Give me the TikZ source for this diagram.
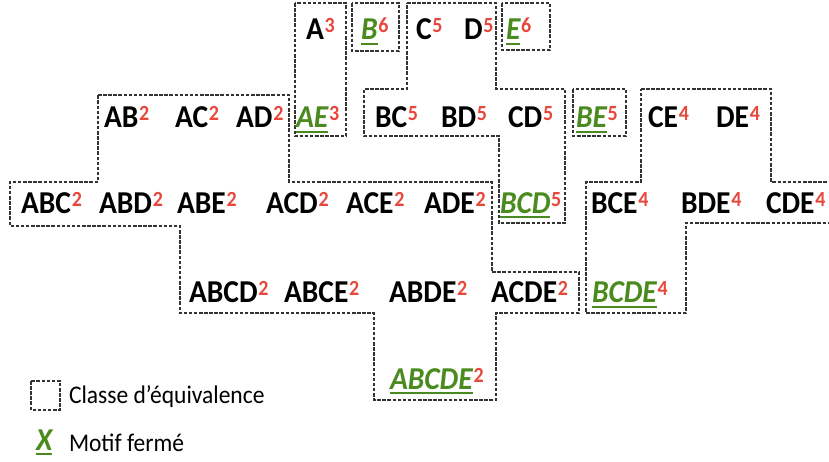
\documentclass[tikz,border=0pt]{standalone}
\usepackage{fontspec}
\setmainfont{Carlito}
\usepackage{graphicx}
\definecolor{cred}{HTML}{E8473B}
\definecolor{cgreen}{HTML}{4A8A1E}
\definecolor{cline}{HTML}{333333}

% support count as a red exponent
\newcommand\cnt[1]{\kern0.8pt\raisebox{6.2pt}{\fontsize{20}{20}\selectfont\bfseries\color{cred}#1}}
% ordinary itemset
\newcommand\iset[2]{\scalebox{1}[1.08]{\fontsize{29.5}{31}\selectfont\bfseries #1\cnt{#2}}}
% closed itemset: green, italic, underlined
\newcommand\cset[2]{\scalebox{1}[1.08]{\fontsize{29.5}{31}\selectfont\bfseries
  {\color{cgreen}\itshape\setbox0\hbox{#1}\rlap{\rule[-5pt]{\wd0}{2pt}}\box0}\cnt{#2}}}

\begin{document}
\begin{tikzpicture}[x=1pt,y=-1pt,
  lbl/.style={anchor=base west,inner sep=0pt,outer sep=0pt},
  eqclass/.style={draw=cline,line width=1.2pt,dash pattern=on 3.5pt off 1.6pt}]
\useasboundingbox (0,0) rectangle (829,461);

\begin{scope}
\clip (0,0) rectangle (829,461);
% equivalence classes
\draw[eqclass] (295,3) rectangle (346,136);
\draw[eqclass] (352,3) rectangle (399,51);
\draw[eqclass] (407,3) -- (496,3) -- (496,89) -- (565,89) -- (565,223) -- (499,223)
  -- (499,136) -- (364,136) -- (364,89) -- (407,89) -- cycle;
\draw[eqclass] (502,3) rectangle (550,50);
\draw[eqclass] (573,89) rectangle (626,136);
\draw[eqclass] (641,89) -- (771,89) -- (771,182) -- (845,182) -- (845,223) -- (686,223)
  -- (686,313) -- (586,313) -- (586,182) -- (641,182) -- cycle;
\draw[eqclass] (98,95) -- (289,95) -- (289,182) -- (492,182) -- (492,272) -- (579,272)
  -- (579,313) -- (496,313) -- (496,400) -- (374,400) -- (374,313) -- (180,313)
  -- (180,226) -- (10,226) -- (10,182) -- (98,182) -- cycle;
\end{scope}

% level 1
\node[lbl] (a)  at (306,39.5) {\iset{A}{3}};
\node[lbl] (b)  at (361,39.5) {\cset{B}{6}};
\node[lbl] (c)  at (416,39.5) {\iset{C}{5}};
\node[lbl] (d)  at (464,39.5) {\iset{D}{5}};
\node[lbl] (e)  at (506,39.5) {\cset{E}{6}};
% level 2
\node[lbl] (ab) at (104,127.5) {\iset{AB}{2}};
\node[lbl] (ac) at (175,127.5) {\iset{AC}{2}};
\node[lbl] (ad) at (236,127.5) {\iset{AD}{2}};
\node[lbl] (ae) at (296,127.5) {\cset{AE}{3}};
\node[lbl] (bc) at (375,127.5) {\iset{BC}{5}};
\node[lbl] (bd) at (441,127.5) {\iset{BD}{5}};
\node[lbl] (cd) at (508,127.5) {\iset{CD}{5}};
\node[lbl] (be) at (576,127.5) {\cset{BE}{5}};
\node[lbl] (ce) at (648,127.5) {\iset{CE}{4}};
\node[lbl] (de) at (716,127.5) {\iset{DE}{4}};
% level 3
\node[lbl] (abc) at (21,213) {\iset{ABC}{2}};
\node[lbl] (abd) at (99,213) {\iset{ABD}{2}};
\node[lbl] (abe) at (177,213) {\iset{ABE}{2}};
\node[lbl] (acd) at (266,213) {\iset{ACD}{2}};
\node[lbl] (ace) at (346,213) {\iset{ACE}{2}};
\node[lbl] (ade) at (424,213) {\iset{ADE}{2}};
\node[lbl] (bcd) at (500,213) {\cset{BCD}{5}};
\node[lbl] (bce) at (591,213) {\iset{BCE}{4}};
\node[lbl] (bde) at (681,213) {\iset{BDE}{4}};
\node[lbl] (cde) at (766,213) {\iset{CDE}{4}};
% level 4
\node[lbl] (abcd) at (189,302.5) {\iset{ABCD}{2}};
\node[lbl] (abce) at (284,302.5) {\iset{ABCE}{2}};
\node[lbl] (abde) at (389,302.5) {\iset{ABDE}{2}};
\node[lbl] (acde) at (491,302.5) {\iset{ACDE}{2}};
\node[lbl] (bcde) at (592,302.5) {\cset{BCDE}{4}};
% level 5
\node[lbl] (abcde) at (390,389) {\cset{ABCDE}{2}};

% legend
\draw[eqclass] (31,381) rectangle (60,410);
\node[lbl] (leg1) at (69,403) {\scalebox{1}[1.08]{\fontsize{23.5}{26}\selectfont Classe d’équivalence}};
\node[lbl] (legx) at (36,450) {\scalebox{1}[1.08]{\fontsize{29.5}{31}\selectfont\bfseries
  {\color{cgreen}\itshape\setbox0\hbox{X}\rlap{\rule[-5pt]{\wd0}{2pt}}\box0}}};
\node[lbl] (leg2) at (69,451) {\scalebox{1}[1.08]{\fontsize{23.5}{26}\selectfont Motif fermé}};
\end{tikzpicture}
\end{document}
